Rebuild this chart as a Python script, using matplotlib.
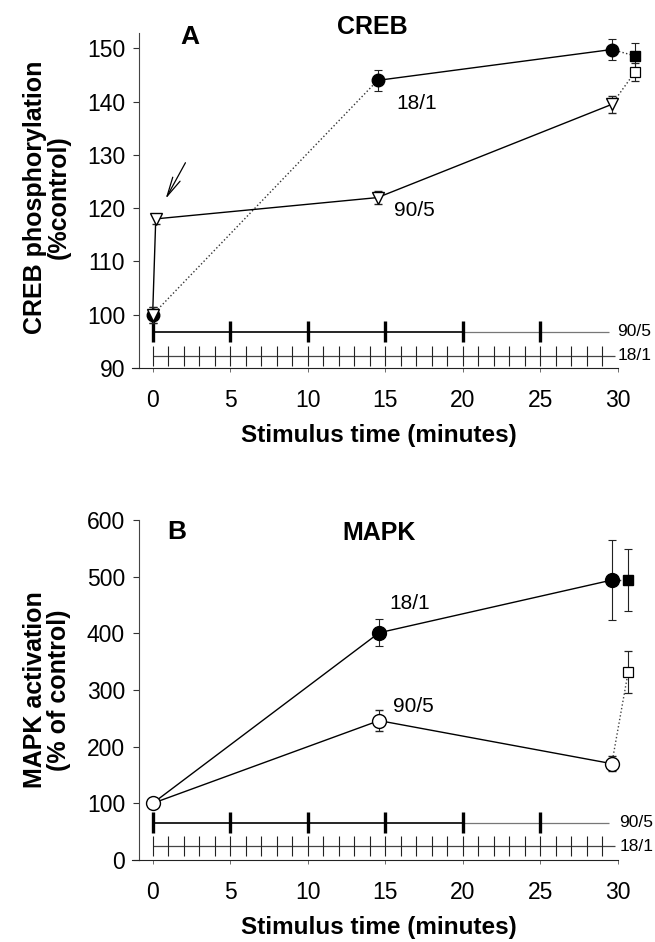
import matplotlib
matplotlib.use("Agg")
import matplotlib.pyplot as plt

# ---- data panel A (CREB) ----
creb_tri_x = [0, 0.2, 14.5, 29.6]
creb_tri_y = [100, 118, 122, 139.5]
creb_tri_err = [1.5, 1.0, 1.2, 1.6]
creb_circ_x = [0, 14.5, 29.6]
creb_circ_y = [100, 144, 149.8]
creb_circ_err = [1.5, 2.0, 1.9]
creb_fsq_x, creb_fsq_y, creb_fsq_err = 31.1, 148.6, 2.5
creb_osq_x, creb_osq_y, creb_osq_err = 31.1, 145.6, 1.7

# ---- data panel B (MAPK) ----
mapk_fill_x = [0, 14.6, 29.6]
mapk_fill_y = [100, 401, 494]
mapk_fill_err = [0, 23.5, 71]
mapk_open_x = [0, 14.6, 29.6]
mapk_open_y = [100, 246, 170]
mapk_open_err = [0, 19, 13]
mapk_fsq_x, mapk_fsq_y, mapk_fsq_err = 30.65, 494, 55
mapk_osq_x, mapk_osq_y, mapk_osq_err = 30.65, 331, 37

# stimulus schedules (minutes)
stim_905 = [0, 5, 10, 15, 20, 25]
stim_181 = [0, 1, 2, 3, 4, 5, 6, 7, 8, 9, 10, 11, 12, 13, 14, 15, 16, 17, 18, 19,
            20, 21, 22, 23, 24, 25, 26, 27, 28, 29]
x_ticks = [0, 5, 10, 15, 20, 25, 30]

NARROW = ['Liberation Sans Narrow', 'Liberation Sans', 'DejaVu Sans']
BOLD = ['Liberation Sans', 'DejaVu Sans']

W, H = 655, 942
fig = plt.figure(figsize=(W / 100, H / 100), dpi=100)


def px_axes(left, top, right, bottom):
    return fig.add_axes([left / W, 1 - bottom / H, (right - left) / W, (bottom - top) / H])


def style_axes(ax, yticks):
    for s in ['top', 'right']:
        ax.spines[s].set_visible(False)
    ax.spines['left'].set_color('#444444')
    ax.spines['bottom'].set_color('#222222')
    ax.set_xticks(x_ticks)
    ax.set_yticks(yticks)
    ax.tick_params(axis='y', direction='out', length=4, width=0.8, pad=6, colors='#333333',
                   labelcolor='black')
    ax.tick_params(axis='x', direction='out', length=3, width=0.6, pad=12, colors='#555555',
                   labelcolor='black')
    for lab in ax.get_xticklabels() + ax.get_yticklabels():
        lab.set_family(NARROW)
        lab.set_fontsize(16.5)
    # bottom axis line runs slightly past the left spine
    ax.plot([-1.3, -0.88], [yticks[0], yticks[0]], color='#222222', lw=0.8, clip_on=False)


def stim_bars(ax, y905, h905, y181, h181, xlab):
    ax.hlines(y905, 0, 20, color='black', lw=1.2, zorder=1)
    ax.hlines(y905, 20, 29.4, color='#777777', lw=0.9, zorder=1)
    ax.vlines(stim_905, y905 - h905, y905 + h905, color='black', lw=2.4, zorder=2)
    ax.hlines(y181, 0, 29.8, color='#444444', lw=0.9, zorder=1)
    ax.vlines(stim_181, y181 - h181, y181 + h181, color='#222222', lw=0.8, zorder=2)
    ax.text(xlab, y905, '90/5', family=NARROW, fontsize=12.5, va='center', ha='left')
    ax.text(xlab, y181, '18/1', family=NARROW, fontsize=12.5, va='center', ha='left')


eb = dict(ecolor='#222222', elinewidth=0.8, capsize=3, capthick=0.8, clip_on=False)

# ================= Panel A =================
axA = px_axes(139, 33, 618, 368)
axA.set_xlim(-0.88, 30)
axA.set_ylim(90, 152.9)
style_axes(axA, [90, 100, 110, 120, 130, 140, 150])

stim_bars(axA, 96.8, 2.0, 92.3, 1.9, 29.95)

# 18/1 circles: dotted to 15 min, solid to 30, dotted to square
axA.plot(creb_circ_x[:2], creb_circ_y[:2], ':', color='#333333', lw=1.0)
axA.plot(creb_circ_x[1:], creb_circ_y[1:], '-', color='black', lw=1.0)
axA.plot([creb_circ_x[2], creb_fsq_x], [creb_circ_y[2], creb_fsq_y], ':', color='#333333',
         lw=1.0, clip_on=False)
axA.errorbar(creb_circ_x, creb_circ_y, yerr=creb_circ_err, fmt='o', ms=9, mfc='black',
             mec='black', zorder=3, **eb)

# 90/5 triangles
axA.plot(creb_tri_x, creb_tri_y, '-', color='black', lw=1.0)
axA.plot([creb_tri_x[3], creb_osq_x], [creb_tri_y[3], creb_osq_y], ':', color='#333333',
         lw=1.0, clip_on=False)
axA.errorbar(creb_tri_x, creb_tri_y, yerr=creb_tri_err, fmt='v', ms=9, mfc='white',
             mec='black', mew=1.0, zorder=4, **eb)

axA.errorbar([creb_fsq_x], [creb_fsq_y], yerr=[creb_fsq_err], fmt='s', ms=7, mfc='black',
             mec='black', zorder=4, **eb)
axA.errorbar([creb_osq_x], [creb_osq_y], yerr=[creb_osq_err], fmt='s', ms=7, mfc='white',
             mec='black', mew=0.9, zorder=4, **eb)

axA.annotate('', xy=(0.75, 121.3), xytext=(2.2, 129.0),
             arrowprops=dict(arrowstyle='->,head_length=1.4,head_width=0.3', lw=0.9,
                             color='black'))

axA.text(17.0, 139.7, '18/1', family=NARROW, fontsize=15, ha='center', va='center')
axA.text(16.9, 119.6, '90/5', family=NARROW, fontsize=15, ha='center', va='center')

axA.set_xlabel('Stimulus time (minutes)', family=BOLD, fontsize=17.5, fontweight='bold',
               labelpad=9)
axA.set_ylabel('CREB phosphorylation\n(%control)', family=BOLD, fontsize=18,
               fontweight='bold', linespacing=1.0)
axA.yaxis.set_label_coords(-0.142, 0.51)

fig.text(190 / W, 1 - 37 / H, 'A', family=BOLD, fontsize=19, fontweight='bold',
         ha='center', va='center')
fig.text(372 / W, 1 - 27 / H, 'CREB', family=BOLD, fontsize=18, fontweight='bold',
         ha='center', va='center')

# ================= Panel B =================
axB = px_axes(139, 520, 618, 860)
axB.set_xlim(-0.88, 30)
axB.set_ylim(0, 600)
style_axes(axB, [0, 100, 200, 300, 400, 500, 600])

stim_bars(axB, 66, 19, 24, 17.5, 30.1)

axB.plot(mapk_fill_x, mapk_fill_y, '-', color='black', lw=1.0)
axB.plot([mapk_fill_x[2], mapk_fsq_x], [mapk_fill_y[2], mapk_fsq_y], ':', color='#333333',
         lw=1.0, clip_on=False)
axB.plot(mapk_open_x, mapk_open_y, '-', color='black', lw=1.0)
axB.plot([mapk_open_x[2], mapk_osq_x], [mapk_open_y[2], mapk_osq_y], ':', color='#444444',
         lw=1.0, clip_on=False)

axB.errorbar(mapk_fill_x[1:], mapk_fill_y[1:], yerr=mapk_fill_err[1:], fmt='o', ms=10,
             mfc='black', mec='black', zorder=3, **eb)
axB.errorbar(mapk_open_x, mapk_open_y, yerr=mapk_open_err, fmt='o', ms=10,
             mfc='white', mec='black', mew=1.0, zorder=4, **eb)
axB.errorbar([mapk_fsq_x], [mapk_fsq_y], yerr=[mapk_fsq_err], fmt='s', ms=7, mfc='black',
             mec='black', zorder=4, **eb)
axB.errorbar([mapk_osq_x], [mapk_osq_y], yerr=[mapk_osq_err], fmt='s', ms=7.5, mfc='white',
             mec='black', mew=0.9, zorder=4, **eb)

axB.text(16.6, 452, '18/1', family=NARROW, fontsize=15, ha='center', va='center')
axB.text(16.8, 270, '90/5', family=NARROW, fontsize=15, ha='center', va='center')

axB.set_xlabel('Stimulus time (minutes)', family=BOLD, fontsize=17.5, fontweight='bold',
               labelpad=9)
axB.set_ylabel('MAPK activation\n(% of control)', family=BOLD, fontsize=18,
               fontweight='bold', linespacing=1.0)
axB.yaxis.set_label_coords(-0.142, 0.5)

fig.text(177 / W, 1 - 532 / H, 'B', family=BOLD, fontsize=19, fontweight='bold',
         ha='center', va='center')
fig.text(379 / W, 1 - 533 / H, 'MAPK', family=BOLD, fontsize=18, fontweight='bold',
         ha='center', va='center')

fig.savefig('out.png', dpi=100)
